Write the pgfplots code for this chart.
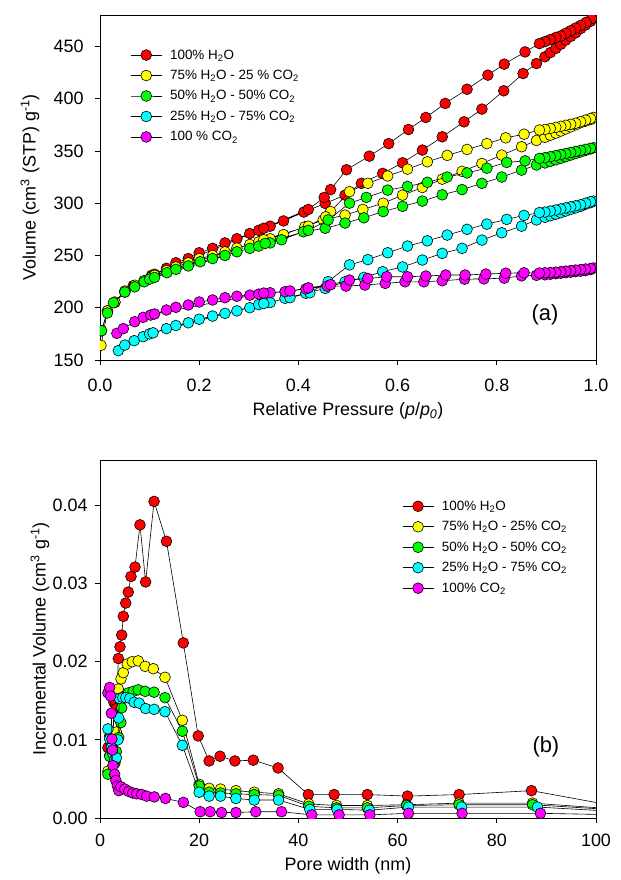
\documentclass[border=0pt]{standalone}
\usepackage{fontspec}
\setmainfont{Liberation Sans}
\usepackage{pgfplots}
\pgfplotsset{compat=1.18}
\definecolor{cRed}{RGB}{255,0,0}
\definecolor{cYel}{RGB}{255,255,0}
\definecolor{cGrn}{RGB}{0,255,0}
\definecolor{cCya}{RGB}{0,255,255}
\definecolor{cMag}{RGB}{255,0,255}
\begin{document}
\begin{tikzpicture}
\useasboundingbox (-100bp,-520bp) rectangle (521bp,360bp);
\pgfplotsset{
  mystyle/.style={
    scale only axis, width=496bp,
    axis line style={line width=0.8bp, black},
    tick align=outside, major tick length=5bp,
    tick style={line width=0.8bp, black},
    xtick pos=bottom, ytick pos=left,
    ticklabel style={font=\fontsize{18}{21}\selectfont},
    label style={font=\fontsize{18}{21}\selectfont},
    /pgf/number format/assume math mode=true,
    clip marker paths=true,
    every axis plot/.append style={black, line width=0.6bp, mark=*, mark size=5.4bp},
    legend style={draw=none, fill=none, font=\fontsize{13.5}{16}\selectfont, anchor=north west, row sep=5.6bp, inner sep=0pt,
      /tikz/every odd column/.append style={column sep=6bp}},
    legend cell align=left,
    legend image code/.code={\draw[mark repeat=2,mark phase=2] plot coordinates {(0bp,0bp) (15.5bp,0bp) (31bp,0bp)};},
  },
}
\begin{axis}[mystyle, height=345bp, at={(0bp,0bp)}, anchor=south west,
  xmin=0, xmax=1, ymin=150, ymax=480,
  xtick={0,0.2,...,1.0}, ytick={150,200,...,450},
  xticklabel style={yshift=-10bp, /pgf/number format/fixed, /pgf/number format/fixed zerofill, /pgf/number format/precision=1},
  yticklabel style={xshift=-8bp},
  xlabel={Relative Pressure (\textit{p}/\textit{p}\textsubscript{\textit{0}})},
  ylabel={Volume (cm\textsuperscript{3} (STP) g\textsuperscript{-1})},
  xlabel style={at={(axis description cs:0.5,-0.148)}, anchor=center},
  ylabel style={at={(axis description cs:-0.141,0.5)}, anchor=center},
  legend style={at={(axis description cs:0.061,0.906)}},
]
\addplot[mark options={fill=cRed, draw=black}] coordinates {
(0.003,178) (0.015,197) (0.03,205) (0.05,215) (0.067,221) (0.089,225.5) (0.104,231) (0.134,237.7) (0.153,243) (0.178,247) (0.2,252.6) (0.227,256.8) (0.252,262) (0.276,266) (0.302,271) (0.32,274) (0.343,278) (0.37,283) (0.411,291.5) (0.454,299.8) (0.494,307.7) (0.527,319) (0.57,328.5) (0.61,338.6) (0.65,350.8) (0.69,363.5) (0.734,377.8) (0.77,390) (0.814,407.5) (0.853,424) (0.88,433.6) (0.897,440) (0.908,444) (0.919,448) (0.929,452) (0.939,456) (0.949,459.5) (0.959,463) (0.969,467) (0.979,470.5) (0.989,474) (0.995,477)
(0.991,476.5) (0.98,473) (0.969,470) (0.959,467.5) (0.949,465) (0.939,462.5) (0.929,460) (0.919,458.5) (0.908,456.5) (0.897,454.5) (0.886,452.7) (0.857,444.7) (0.815,433) (0.782,422.5) (0.74,409) (0.696,395.4) (0.657,382) (0.622,370.5) (0.582,357) (0.543,345) (0.497,332) (0.465,313) (0.452,305.5) (0.42,294) (0.33,276) (0.11,232)
};
\addlegendentry{100\% H\textsubscript{2}O}
\addplot[mark options={fill=cYel, draw=black}] coordinates {
(0.002,164) (0.015,197) (0.03,205.5) (0.05,216) (0.07,221.5) (0.089,226) (0.104,229.5) (0.134,235.5) (0.153,239) (0.178,243) (0.2,247) (0.227,250) (0.252,253.5) (0.276,257) (0.302,260.5) (0.32,263) (0.343,266) (0.37,270) (0.413,277.4) (0.45,284) (0.494,288.6) (0.53,294) (0.571,300) (0.61,307.7) (0.65,315) (0.69,323) (0.73,330.5) (0.77,338) (0.81,346) (0.85,354) (0.88,360) (0.897,363) (0.908,365) (0.919,367) (0.929,369) (0.939,371) (0.949,373) (0.959,375) (0.969,377) (0.979,378.5) (0.989,380) (0.995,382)
(0.989,381) (0.979,379.5) (0.969,378) (0.959,376.5) (0.949,375.5) (0.939,374.5) (0.929,373.5) (0.919,372.5) (0.908,371.5) (0.897,370.5) (0.886,370) (0.855,366) (0.818,362.5) (0.78,357) (0.74,351.4) (0.70,345.7) (0.66,339.6) (0.62,332.6) (0.58,326) (0.54,319) (0.503,311) (0.465,292) (0.455,287) (0.42,278) (0.33,265) (0.11,231)
};
\addlegendentry{75\% H\textsubscript{2}O - 25 \% CO\textsubscript{2}}
\addplot[mark options={fill=cGrn, draw=black}] coordinates {
(0.003,178) (0.015,195) (0.027,204.8) (0.05,215) (0.07,220) (0.089,224.8) (0.1,227.4) (0.135,233.5) (0.153,236.7) (0.178,240) (0.202,244) (0.227,247) (0.252,250) (0.276,253.5) (0.302,256.8) (0.32,259) (0.343,262) (0.366,265) (0.41,272.7) (0.454,276) (0.494,281) (0.532,286) (0.571,292) (0.61,297) (0.65,302) (0.69,308) (0.73,313) (0.77,319) (0.81,325) (0.85,331.6) (0.88,336.5) (0.897,338.5) (0.908,340) (0.919,341.5) (0.929,343) (0.939,344.5) (0.949,346) (0.959,347.5) (0.969,349) (0.979,350.5) (0.989,352) (0.995,353)
(0.989,352.5) (0.979,351.5) (0.969,350.5) (0.959,349.5) (0.949,348.5) (0.939,347.5) (0.929,346.5) (0.919,345.5) (0.908,344.5) (0.897,343.5) (0.886,342.8) (0.857,340.5) (0.82,339) (0.78,333.5) (0.74,329) (0.70,325) (0.66,320) (0.62,316) (0.58,312.5) (0.537,305.5) (0.503,300) (0.46,284) (0.42,274) (0.333,261.5) (0.11,229)
};
\addlegendentry{50\% H\textsubscript{2}O - 50\% CO\textsubscript{2}}
\addplot[mark options={fill=cCya, draw=black}] coordinates {
(0.037,159) (0.05,164.3) (0.069,168.5) (0.087,172.3) (0.1,175) (0.134,180) (0.153,183) (0.178,185.6) (0.2,189) (0.227,192) (0.252,194.6) (0.276,197) (0.302,200) (0.32,203) (0.343,205) (0.373,209) (0.415,213.8) (0.454,218.5) (0.494,224.8) (0.532,229) (0.57,234.5) (0.61,239) (0.65,245.6) (0.69,252) (0.73,256.8) (0.77,264.7) (0.81,271.7) (0.85,278) (0.88,284) (0.897,286.5) (0.908,288) (0.919,289.5) (0.929,291) (0.939,292.5) (0.949,294) (0.959,295.5) (0.969,297) (0.979,299) (0.989,300.5) (0.995,302)
(0.989,301.5) (0.979,300) (0.969,298.5) (0.959,297.5) (0.949,296.5) (0.939,295.5) (0.929,294.5) (0.919,293.5) (0.908,292.5) (0.897,291.5) (0.886,291) (0.855,288.3) (0.82,284.5) (0.78,280) (0.74,275) (0.70,269.5) (0.66,264) (0.62,259) (0.58,252.6) (0.54,246) (0.503,241) (0.46,225) (0.423,214.3) (0.383,209.6) (0.33,204) (0.107,176)
};
\addlegendentry{25\% H\textsubscript{2}O - 75\% CO\textsubscript{2}}
\addplot[mark options={fill=cMag, draw=black}] coordinates {
(0.034,175.5) (0.047,180) (0.07,186.6) (0.087,190.8) (0.102,193) (0.134,197.8) (0.153,200.4) (0.178,202.6) (0.2,205.5) (0.227,207.4) (0.252,209.6) (0.276,211) (0.302,212) (0.32,213) (0.343,214.3) (0.373,215.3) (0.415,218) (0.458,220.7) (0.496,220.7) (0.534,221.7) (0.575,223.3) (0.615,224.8) (0.653,224.8) (0.69,225.8) (0.735,227.3) (0.774,227.6) (0.815,228.3) (0.85,230.5) (0.88,231) (0.897,231.5) (0.908,232) (0.919,232.5) (0.929,233) (0.939,233.5) (0.949,234) (0.959,234.5) (0.969,235) (0.979,235.5) (0.989,236.5) (0.995,238)
(0.989,237.5) (0.979,237) (0.969,236.5) (0.959,236) (0.949,235.5) (0.939,235) (0.929,234.5) (0.919,234) (0.908,233.7) (0.897,233.4) (0.886,233.2) (0.855,233.4) (0.818,233) (0.778,232.2) (0.736,231.3) (0.697,231.3) (0.657,230.3) (0.62,229.6) (0.578,229.6) (0.54,228) (0.503,226.5) (0.465,222) (0.42,219) (0.383,216) (0.33,214) (0.11,194)
};
\addlegendentry{100 \% CO\textsubscript{2}}
\node[font=\fontsize{22}{26}\selectfont] at (axis cs:0.897,193) {(a)};
\end{axis}

\begin{axis}[mystyle, height=358bp, at={(0bp,-458bp)}, anchor=south west,
  xmin=0, xmax=100, ymin=0, ymax=0.0458,
  xtick={0,20,...,100}, ytick={0,0.01,...,0.04},
  scaled y ticks=false,
  xticklabel style={yshift=-7bp},
  yticklabel style={xshift=-4bp, /pgf/number format/fixed, /pgf/number format/fixed zerofill, /pgf/number format/precision=2},
  xlabel={Pore width (nm)},
  ylabel={Incremental Volume (cm\textsuperscript{3} g\textsuperscript{-1})},
  xlabel style={at={(axis description cs:0.5,-0.135)}, anchor=center},
  ylabel style={at={(axis description cs:-0.121,0.5)}, anchor=center},
  legend style={at={(axis description cs:0.609,0.892)}},
]
\addplot[mark options={fill=cRed, draw=black}] coordinates {
(1.6,0.0090) (1.95,0.0105) (2.3,0.0095) (2.6,0.0080) (2.8,0.0148) (3.3,0.0140) (3.7,0.0204) (4.03,0.0219) (4.37,0.0234) (4.7,0.0258) (5.18,0.0275) (5.7,0.0289) (6.25,0.0309) (7.06,0.0321) (8.06,0.0375) (9.2,0.0302) (10.9,0.0405) (13.4,0.0354) (16.8,0.0224) (19.8,0.0105) (22,0.0073) (24.2,0.0079) (27.2,0.0073) (30.9,0.0074) (35.9,0.0064) (42,0.0030) (47.2,0.0030) (53.9,0.0030) (62,0.0028) (72.4,0.0030) (87,0.0035) (105,0.0014)
};
\addlegendentry{100\% H\textsubscript{2}O}
\addplot[mark options={fill=cYel, draw=black}] coordinates {
(1.6,0.0060) (1.95,0.0080) (2.3,0.0088) (2.6,0.0075) (3.0,0.0070) (3.3,0.0110) (3.7,0.0165) (4.23,0.0178) (4.7,0.0186) (5.5,0.0197) (6.5,0.0200) (7.7,0.0201) (9.1,0.0194) (10.75,0.0191) (13.1,0.0180) (16.6,0.0125) (20,0.0043) (22,0.0038) (24.3,0.0037) (27.4,0.0035) (31.1,0.0033) (36,0.0031) (42.1,0.0018) (47.7,0.0016) (53.9,0.0016) (61.8,0.0017) (72.4,0.0019) (87.2,0.0019) (105,0.0011)
};
\addlegendentry{75\% H\textsubscript{2}O - 25\% CO\textsubscript{2}}
\addplot[mark options={fill=cGrn, draw=black}] coordinates {
(1.6,0.0056) (1.95,0.0079) (2.3,0.0092) (2.6,0.0085) (3.0,0.0072) (3.3,0.0085) (3.77,0.0103) (4.2,0.0122) (4.37,0.0141) (5.0,0.0156) (5.7,0.0160) (6.7,0.0162) (7.7,0.0164) (9.1,0.0162) (10.9,0.0161) (13.1,0.0154) (16.6,0.0111) (20,0.0041) (22,0.0033) (24.3,0.0032) (27.4,0.0031) (31.1,0.0030) (36,0.0029) (42.1,0.0015) (47.7,0.0013) (53.9,0.0013) (61.8,0.0016) (72.4,0.0017) (87.2,0.0017) (105,0.0010)
};
\addlegendentry{50\% H\textsubscript{2}O - 50\% CO\textsubscript{2}}
\addplot[mark options={fill=cCya, draw=black}] coordinates {
(1.6,0.0114) (1.95,0.0101) (2.3,0.0090) (2.6,0.0082) (3.0,0.0075) (3.3,0.0077) (3.6,0.0100) (3.77,0.0128) (3.9,0.0153) (4.6,0.0154) (5.2,0.0154) (6.0,0.0153) (6.9,0.0148) (7.9,0.0147) (9.2,0.0140) (10.9,0.0139) (13.1,0.0136) (16.6,0.0093) (20,0.0033) (22,0.0028) (24.3,0.0028) (27.4,0.0025) (31.1,0.0023) (36,0.0023) (42.3,0.0011) (47.8,0.0011) (54.3,0.0010) (62.2,0.0014) (72.9,0.0014) (88.2,0.0014) (105,0.0008)
};
\addlegendentry{25\% H\textsubscript{2}O - 75\% CO\textsubscript{2}}
\addplot[mark options={fill=cMag, draw=black}] coordinates {
(1.6,0.0160) (1.95,0.0167) (2.15,0.0156) (2.28,0.0134) (2.4,0.0101) (2.5,0.0087) (2.6,0.0067) (2.96,0.0056) (3.2,0.0048) (3.5,0.0041) (3.8,0.0035) (4.2,0.0040) (5.0,0.0037) (5.8,0.0034) (6.6,0.0032) (7.4,0.0031) (8.4,0.0030) (9.4,0.0028) (10.95,0.0027) (13.2,0.0025) (16.8,0.0020) (20.2,0.0008) (22.2,0.0008) (24.5,0.0007) (27.4,0.0007) (31.4,0.0008) (36.6,0.0008) (42.7,0.0004) (48.2,0.0004) (54.4,0.0004) (62.2,0.0006) (73,0.0006) (88.8,0.0006) (105,0.0004)
};
\addlegendentry{100\% CO\textsubscript{2}}
\node[font=\fontsize{22}{26}\selectfont] at (axis cs:89.9,0.00905) {(b)};
\end{axis}
\end{tikzpicture}
\end{document}
